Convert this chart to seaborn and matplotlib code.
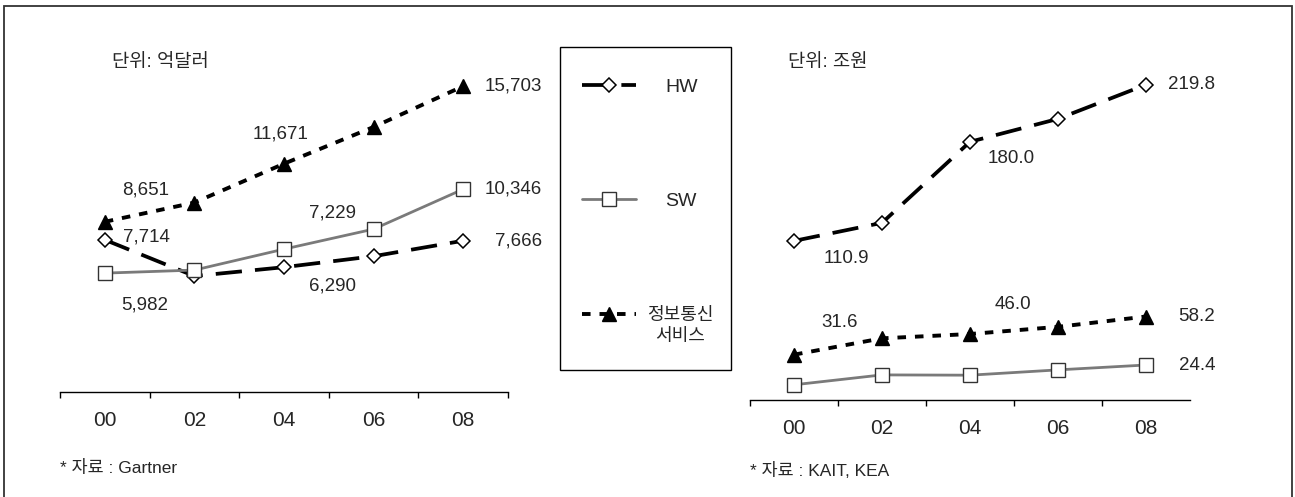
import numpy as np
import matplotlib.pyplot as plt
import matplotlib.patches as patches
import seaborn as sns

# x categories (years)
years = ['00', '02', '04', '06', '08']

# world market, unit: 억달러
world_hw = [7714, 5830, 6290, 6860, 7666]
world_sw = [5982, 6140, 7229, 8270, 10346]
world_ict = [8651, 9650, 11671, 13580, 15703]

# domestic market, unit: 조원
kr_hw = [110.9, 123.5, 180.0, 196.0, 219.8]
kr_sw = [10.6, 17.5, 17.3, 21.0, 24.4]
kr_ict = [31.6, 43.0, 46.0, 51.0, 58.2]

series_names = ['HW', 'SW', '정보통신']
ict_second_line = '서비스'

sns.set_style('white')
plt.rcParams['font.family'] = ['Liberation Sans', 'Noto Sans CJK KR']

W, H = 1295, 497
fig = plt.figure(figsize=(W / 100, H / 100), dpi=100)

# line styles per series
styles = [
    dict(color='black', linewidth=2.7, linestyle=(0, (7, 3.5)), marker='D', markersize=7.5,
         markerfacecolor='white', markeredgecolor='black', markeredgewidth=1.1),
    dict(color='#7a7a7a', linewidth=2.0, linestyle='-', marker='s', markersize=10.5,
         markerfacecolor='white', markeredgecolor='#333333', markeredgewidth=1.0),
    dict(color='black', linewidth=2.8, linestyle=(0, (2.2, 2.3)), marker='^', markersize=10.5,
         markerfacecolor='black', markeredgecolor='black', markeredgewidth=1.0),
]


def px_axes(x0, y0, x1, y1):
    # pixel box (top-left origin) -> figure axes
    return fig.add_axes([x0 / W, 1 - y1 / H, (x1 - x0) / W, (y1 - y0) / H])


def setup(ax, ylim, minor_ticks):
    ax.set_xlim(-0.5, 4.5)
    ax.set_ylim(*ylim)
    ax.set_xticks(np.arange(len(years)))
    ax.set_xticklabels(years)
    ax.set_xticks(minor_ticks, minor=True)
    ax.set_yticks([])
    ax.set_xlabel('')
    ax.set_ylabel('')
    for s in ['left', 'right', 'top']:
        ax.spines[s].set_visible(False)
    ax.spines['bottom'].set_color('black')
    ax.spines['bottom'].set_linewidth(1.0)
    ax.tick_params(axis='x', which='major', bottom=True, length=0, pad=14, labelsize=15)
    ax.tick_params(axis='x', which='minor', bottom=True, length=4.5, width=1, color='black',
                   direction='out')
    ax.patch.set_alpha(0)


def put_label(ax, i, v, text, dx, dy, ha='center'):
    # dx, dy in pixels, dy positive downward
    ax.annotate(text, xy=(i, v), xytext=(dx * 0.72, -dy * 0.72), textcoords='offset points',
                ha=ha, va='center', fontsize=13.5)


xs = np.arange(len(years))

# ---- left chart
ax1 = px_axes(60, 42, 508, 392)
for vals, name, st in zip([world_hw, world_sw, world_ict], series_names, styles):
    sns.lineplot(x=xs, y=vals, ax=ax1, legend=False, label=name, **st)
setup(ax1, (-200, 18000), np.arange(-0.5, 5, 1))

put_label(ax1, 0, world_ict[0], f'{world_ict[0]:,}', 41, -32)
put_label(ax1, 2, world_ict[2], f'{world_ict[2]:,}', -3, -30)
put_label(ax1, 4, world_ict[4], f'{world_ict[4]:,}', 79, 0, ha='right')
put_label(ax1, 0, world_hw[0], f'{world_hw[0]:,}', 42, -3)
put_label(ax1, 2, world_hw[2], f'{world_hw[2]:,}', 48, 19)
put_label(ax1, 4, world_hw[4], f'{world_hw[4]:,}', 79, 0, ha='right')
put_label(ax1, 0, world_sw[0], f'{world_sw[0]:,}', 40, 32)
put_label(ax1, 2, world_sw[2], f'{world_sw[2]:,}', 48, -36)
put_label(ax1, 4, world_sw[4], f'{world_sw[4]:,}', 79, 0, ha='right')

# ---- right chart
ax2 = px_axes(750, 50, 1190, 400)
for vals, name, st in zip([kr_hw, kr_sw, kr_ict], series_names, styles):
    sns.lineplot(x=xs, y=vals, ax=ax2, legend=False, label=name, **st)
setup(ax2, (0, 244), np.arange(-0.5, 4, 1))

put_label(ax2, 0, kr_hw[0], f'{kr_hw[0]:.1f}', 52, 18)
put_label(ax2, 2, kr_hw[2], f'{kr_hw[2]:.1f}', 41, 17)
put_label(ax2, 4, kr_hw[4], f'{kr_hw[4]:.1f}', 69, 0, ha='right')
put_label(ax2, 0, kr_ict[0], f'{kr_ict[0]:.1f}', 46, -32)
put_label(ax2, 2, kr_ict[2], f'{kr_ict[2]:.1f}', 43, -30)
put_label(ax2, 4, kr_ict[4], f'{kr_ict[4]:.1f}', 69, 0, ha='right')
put_label(ax2, 4, kr_sw[4], f'{kr_sw[4]:.1f}', 69, 0, ha='right')

# units and sources
fig.text(112 / W, 1 - 62 / H, '단위: 억달러', fontsize=13.5, va='center')
fig.text(788 / W, 1 - 62 / H, '단위: 조원', fontsize=13.5, va='center')
fig.text(60 / W, 1 - 468 / H, '* 자료 : Gartner', fontsize=12.5, va='center')
fig.text(750 / W, 1 - 470 / H, '* 자료 : KAIT, KEA', fontsize=12.5, va='center')

# legend in the middle box
handles = ax1.get_lines()[:3]
leg = fig.legend(handles, series_names, loc='upper left', bbox_to_anchor=(582 / W, 1 - 78 / H),
                 frameon=False, handlelength=2.8, handletextpad=1.5, labelspacing=4.97,
                 borderpad=0, borderaxespad=0, fontsize=14)

# the two-line Korean label sits closer to its handle, centred lines
fig.canvas.draw()
ict_text = leg.get_texts()[2]
bb = ict_text.get_window_extent().transformed(fig.transFigure.inverted())
ict_text.set_visible(False)
yc = (bb.y0 + bb.y1) / 2
fig.text(680 / W, yc, series_names[2], fontsize=13, ha='center', va='center')
fig.text(680 / W, yc - 21 / H, ict_second_line, fontsize=13, ha='center', va='center')

fig.add_artist(patches.Rectangle((560 / W, 1 - 370 / H), 171 / W, 323 / H, transform=fig.transFigure,
                                 fill=False, edgecolor='black', linewidth=1.0))
# outer frame (bottom edge is cut off in the original)
fig.add_artist(patches.Rectangle((4 / W, -0.05), 1288 / W, 1 - 6 / H + 0.05, transform=fig.transFigure,
                                 fill=False, edgecolor='#333333', linewidth=1.3, clip_on=False))

fig.savefig('out.png', dpi=100)
